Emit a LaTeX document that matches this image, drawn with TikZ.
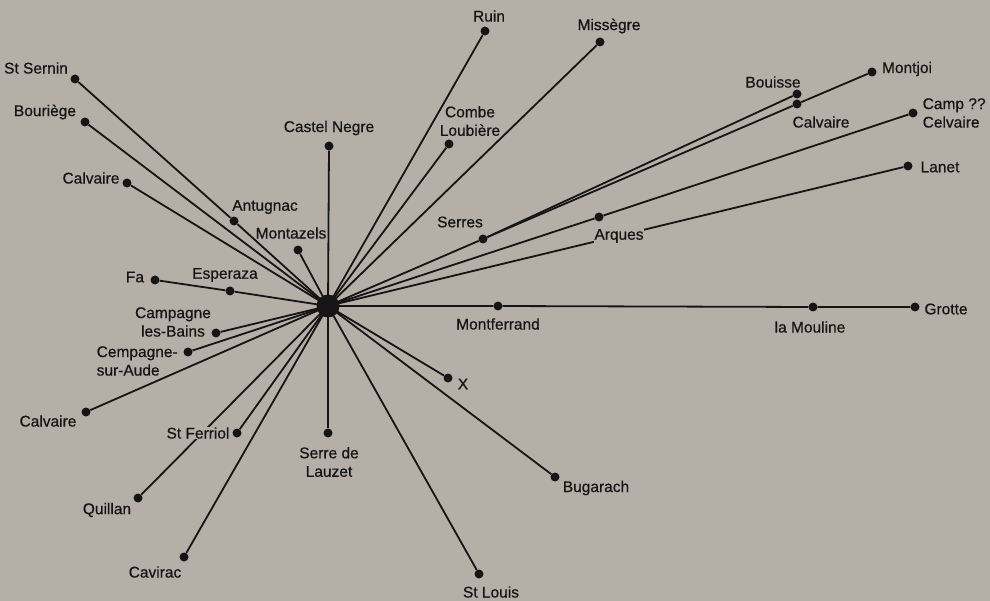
\documentclass[tikz,border=0pt]{standalone}
\usepackage{fontspec}
\setmainfont[FakeBold=0.6]{Liberation Sans}
\pgfdeclarelayer{bglayer}
\pgfdeclarelayer{lineslayer}
\pgfdeclarelayer{labelslayer}
\pgfsetlayers{bglayer,lineslayer,labelslayer,main}
\definecolor{bgc}{RGB}{181,175,168}
\definecolor{ink}{RGB}{22,20,20}
\tikzset{
  dot/.style={circle,fill=ink,inner sep=0pt,minimum size=9pt},
  hub/.style={circle,fill=ink,inner sep=0pt,minimum size=23pt},
  conn/.style={draw=ink,line width=1.8pt},
  lbl/.style={font=\fontsize{15.5}{18.5}\selectfont,text=ink,inner sep=0.5pt,align=center},
  lbll/.style={lbl,align=left,anchor=west},
  mask/.style={fill=bgc}
}
\begin{document}
\begin{tikzpicture}[x=1pt,y=-1pt]
\begin{pgfonlayer}{bglayer}
\fill[bgc] (0,0) rectangle (990,601);
\end{pgfonlayer}
\useasboundingbox (0,0) rectangle (990,601);

% hub and dots
\node[hub] (c) at (328,306) {};
\node[dot] (stsernin) at (75,79) {};
\node[dot] (antugnac) at (234,221) {};
\node[dot] (bouriege) at (85,122) {};
\node[dot] (calvairea) at (127,183) {};
\node[dot] (montazels) at (298,250) {};
\node[dot] (castel) at (329,146) {};
\node[dot] (fa) at (155,280) {};
\node[dot] (esperaza) at (230,291) {};
\node[dot] (campagne) at (216,333) {};
\node[dot] (cempagne) at (188,352) {};
\node[dot] (calvaireb) at (86,412) {};
\node[dot] (stferriol) at (237,433) {};
\node[dot] (quillan) at (138,498) {};
\node[dot] (cavirac) at (184,557) {};
\node[dot] (serrede) at (328,433) {};
\node[dot] (stlouis) at (479,574) {};
\node[dot] (bugarach) at (555,477) {};
\node[dot] (xx) at (448,378) {};
\node[dot] (montferrand) at (498,306) {};
\node[dot] (mouline) at (813,307) {};
\node[dot] (grotte) at (915,307) {};
\node[dot] (ruin) at (485,31) {};
\node[dot] (combe) at (449,144) {};
\node[dot] (missegre) at (600,42) {};
\node[dot] (serres) at (483,239) {};
\node[dot] (calvairec) at (797,104) {};
\node[dot] (montjoi) at (872,72) {};
\node[dot] (bouisse) at (797,94) {};
\node[dot] (arques) at (599,217) {};
\node[dot] (camp) at (913,113) {};
\node[dot] (lanet) at (908,166) {};

% connectors
\begin{pgfonlayer}{lineslayer}
\draw[conn] (c.center) -- (antugnac) -- (stsernin);
\draw[conn] (c.center) -- (bouriege);
\draw[conn] (c.center) -- (calvairea);
\draw[conn] (c.center) -- (montazels);
\draw[conn] (c.center) -- (castel);
\draw[conn] (c.center) -- (esperaza) -- (fa);
\draw[conn] (c.center) -- (campagne);
\draw[conn] (c.center) -- (cempagne);
\draw[conn] (c.center) -- (calvaireb);
\draw[conn] (c.center) -- (stferriol);
\draw[conn] (c.center) -- (quillan);
\draw[conn] (c.center) -- (cavirac);
\draw[conn] (c.center) -- (serrede);
\draw[conn] (c.center) -- (stlouis);
\draw[conn] (c.center) -- (bugarach);
\draw[conn] (c.center) -- (xx);
\draw[conn] (c.center) -- (montferrand) -- (mouline) -- (grotte);
\draw[conn] (c.center) -- (ruin);
\draw[conn] (c.center) -- (combe);
\draw[conn] (c.center) -- (missegre);
\draw[conn] (c.center) -- (serres) -- (calvairec) -- (montjoi);
\draw[conn] (serres) -- (bouisse);
\draw[conn] (c.center) -- (arques) -- (camp);
\draw[conn] (c.center) -- (lanet);
\end{pgfonlayer}

% labels
\begin{pgfonlayer}{labelslayer}
\node[lbl] (l-stsernin) at (36,68) {St Sernin};
\node[lbl] (l-bouriege) at (45,112) {Bouriège};
\node[lbl] (l-calvairea) at (91,178) {Calvaire};
\node[lbl] (l-antugnac) at (265,207) {Antugnac};
\node[lbl] (l-montazels) at (291,233) {Montazels};
\node[lbl] (l-castel) at (329,128) {Castel Negre};
\node[lbl] (l-fa) at (135,277) {Fa};
\node[lbl] (l-esperaza) at (225,275) {Esperaza};
\node[lbl] (l-campagne) at (173,322) {Campagne\\les-Bains};
\node[lbll] (l-cempagne) at (96,361) {Cempagne-\\sur-Aude};
\node[lbl] (l-calvaireb) at (48,421) {Calvaire};
\node[lbl,mask] (l-stferriol) at (198,433) {St Ferriol};
\node[lbl] (l-quillan) at (107,510) {Quillan};
\node[lbl] (l-cavirac) at (155,572) {Cavirac};
\node[lbl] (l-serrede) at (329,462) {Serre de\\Lauzet};
\node[lbl] (l-ruin) at (489,16) {Ruin};
\node[lbl] (l-missegre) at (609,26) {Missègre};
\node[lbl] (l-combe) at (470,121) {Combe\\Loubière};
\node[lbl] (l-serres) at (460,222) {Serres};
\node[lbl,mask] (l-arques) at (619,236) {Arques};
\node[lbl] (l-montferrand) at (498,324) {Montferrand};
\node[lbl] (l-xx) at (463,384) {X};
\node[lbl] (l-bugarach) at (596,488) {Bugarach};
\node[lbl] (l-stlouis) at (491,592) {St Louis};
\node[lbl] (l-montjoi) at (907,69) {Montjoi};
\node[lbl] (l-bouisse) at (773,82) {Bouisse};
\node[lbl] (l-calvairec) at (821,122) {Calvaire};
\node[lbll] (l-camp) at (922,113) {Camp ??\\Celvaire};
\node[lbl] (l-lanet) at (940,167) {Lanet};
\node[lbl] (l-grotte) at (946,309) {Grotte};
\node[lbl] (l-mouline) at (810,327) {la Mouline};
\end{pgfonlayer}
\end{tikzpicture}
\end{document}
